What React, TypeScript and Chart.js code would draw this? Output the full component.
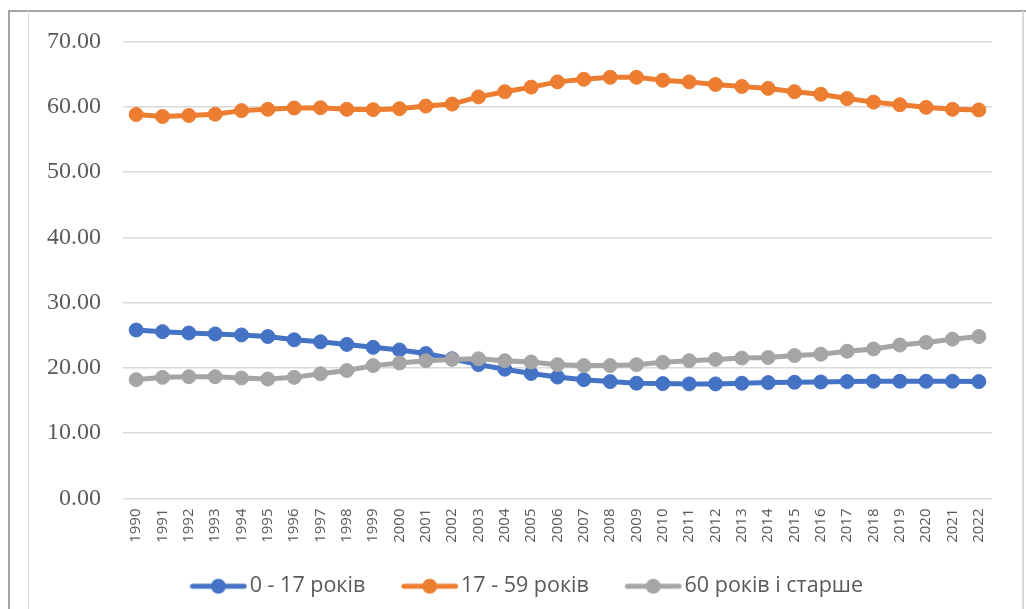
import React, { useEffect, useRef } from "react";
import { Chart, registerables } from "chart.js";

Chart.register(...registerables);

const years: string[] = [
  "1990","1991","1992","1993","1994","1995","1996","1997","1998","1999",
  "2000","2001","2002","2003","2004","2005","2006","2007","2008","2009",
  "2010","2011","2012","2013","2014","2015","2016","2017","2018","2019",
  "2020","2021","2022",
];

const age0to17: number[] = [
  25.8, 25.55, 25.35, 25.2, 25.05, 24.8, 24.3, 24.0, 23.6, 23.15,
  22.75, 22.2, 21.4, 20.5, 19.8, 19.15, 18.6, 18.2, 17.9, 17.65,
  17.6, 17.55, 17.55, 17.65, 17.75, 17.8, 17.85, 17.9, 17.95, 17.95,
  17.95, 17.95, 17.9,
];

const age17to59: number[] = [
  58.8, 58.5, 58.65, 58.85, 59.4, 59.6, 59.8, 59.85, 59.6, 59.55,
  59.7, 60.1, 60.4, 61.5, 62.3, 63.0, 63.8, 64.2, 64.5, 64.5,
  64.05, 63.8, 63.4, 63.1, 62.8, 62.3, 61.9, 61.25, 60.7, 60.3,
  59.9, 59.6, 59.5,
];

const age60plus: number[] = [
  18.2, 18.55, 18.65, 18.65, 18.45, 18.3, 18.55, 19.1, 19.6, 20.35,
  20.75, 21.1, 21.3, 21.4, 21.1, 20.9, 20.5, 20.35, 20.35, 20.5,
  20.85, 21.1, 21.3, 21.5, 21.6, 21.9, 22.1, 22.55, 22.9, 23.5,
  23.9, 24.4, 24.8,
];

const seriesNames: string[] = ["0 - 17 років", "17 - 59 років", "60 років і старше"];
const seriesColors: string[] = ["#4472C4", "#ED7D31", "#A5A5A5"];
const yTicks: number[] = [0, 10, 20, 30, 40, 50, 60, 70];

function makeLegendIcon(color: string): HTMLCanvasElement {
  const c = document.createElement("canvas");
  c.width = 82;
  c.height = 18;
  const ctx = c.getContext("2d")!;
  ctx.strokeStyle = color;
  ctx.lineWidth = 5;
  ctx.lineCap = "round";
  ctx.beginPath();
  ctx.moveTo(27, 9);
  ctx.lineTo(78.75, 9);
  ctx.stroke();
  ctx.fillStyle = color;
  ctx.beginPath();
  ctx.arc(52.9, 9, 7.5, 0, Math.PI * 2);
  ctx.fill();
  return c;
}

export default function App() {
  const canvasRef = useRef<HTMLCanvasElement | null>(null);

  useEffect(() => {
    document.body.style.margin = "0";
    document.body.style.overflow = "hidden";
    const canvas = canvasRef.current;
    if (!canvas) return;
    const icons = seriesColors.map(makeLegendIcon);
    const seriesData = [age0to17, age17to59, age60plus];
    const orders = [3, 2, 1];

    const chart = new Chart(canvas, {
      type: "line",
      data: {
        labels: years,
        datasets: seriesData.map((d, i) => ({
          label: seriesNames[i],
          data: d,
          borderColor: seriesColors[i],
          backgroundColor: seriesColors[i],
          borderWidth: 5,
          pointRadius: 7,
          pointBorderWidth: 1,
          pointHoverRadius: 7,
          pointBackgroundColor: seriesColors[i],
          pointBorderColor: seriesColors[i],
          tension: 0,
          fill: false,
          order: orders[i],
        })),
      },
      options: {
        animation: false,
        responsive: false,
        maintainAspectRatio: false,
        layout: { padding: { left: 45, right: 29, top: 36, bottom: 0 } },
        scales: {
          x: {
            offset: true,
            grid: { display: false, drawTicks: false },
            border: { display: false },
            afterFit: (scale: any) => {
              scale.height = 57;
            },
            ticks: {
              autoSkip: false,
              minRotation: 90,
              maxRotation: 90,
              padding: 10,
              color: "#595959",
              font: { family: "'Open Sans'", size: 15 },
            },
          },
          y: {
            min: 0,
            max: 70,
            afterBuildTicks: (scale: any) => {
              scale.ticks = yTicks.map((v) => ({ value: v }));
            },
            afterFit: (scale: any) => {
              scale.width = 78;
            },
            grid: { color: "#D9D9D9", lineWidth: 1.5, drawTicks: false },
            border: { display: false },
            ticks: {
              padding: 22,
              color: "#595959",
              font: { family: "'Liberation Serif'", size: 24 },
              callback: (v: any) => Number(v).toFixed(2),
            },
          },
        },
        plugins: {
          tooltip: { enabled: false },
          legend: {
            position: "bottom",
            labels: {
              usePointStyle: true,
              pointStyleWidth: 65,
              padding: 20,
              color: "#595959",
              font: { family: "'Open Sans'", size: 21.5 },
              sort: (a: any, b: any) => a.datasetIndex - b.datasetIndex,
              generateLabels: (ch: any) => {
                const items = Chart.defaults.plugins.legend.labels.generateLabels(ch);
                return items.map((it: any) => ({ ...it, pointStyle: icons[it.datasetIndex] }));
              },
            },
          },
        },
      } as any,
    });
    return () => chart.destroy();
  }, []);

  return (
    <div style={{ position: "relative", width: 1026, height: 609, overflow: "hidden", background: "#fff" }}>
      <div style={{ position: "absolute", left: 8, top: 10, width: 1018, height: 1.5, background: "#A6A6A6" }} />
      <div style={{ position: "absolute", left: 8, top: 10, width: 1.5, height: 599, background: "#A6A6A6" }} />
      <div style={{ position: "absolute", left: 28, top: 11, width: 1, height: 598, background: "#D9D9D9" }} />
      <div style={{ position: "absolute", left: 1022, top: 11, width: 1.5, height: 598, background: "#D9D9D9" }} />
      <div style={{ position: "absolute", left: 0, top: 5, width: 1021, height: 602 }}>
        <canvas ref={canvasRef} width={1021} height={602} style={{ display: "block", width: 1021, height: 602 }} />
      </div>
    </div>
  );
}
